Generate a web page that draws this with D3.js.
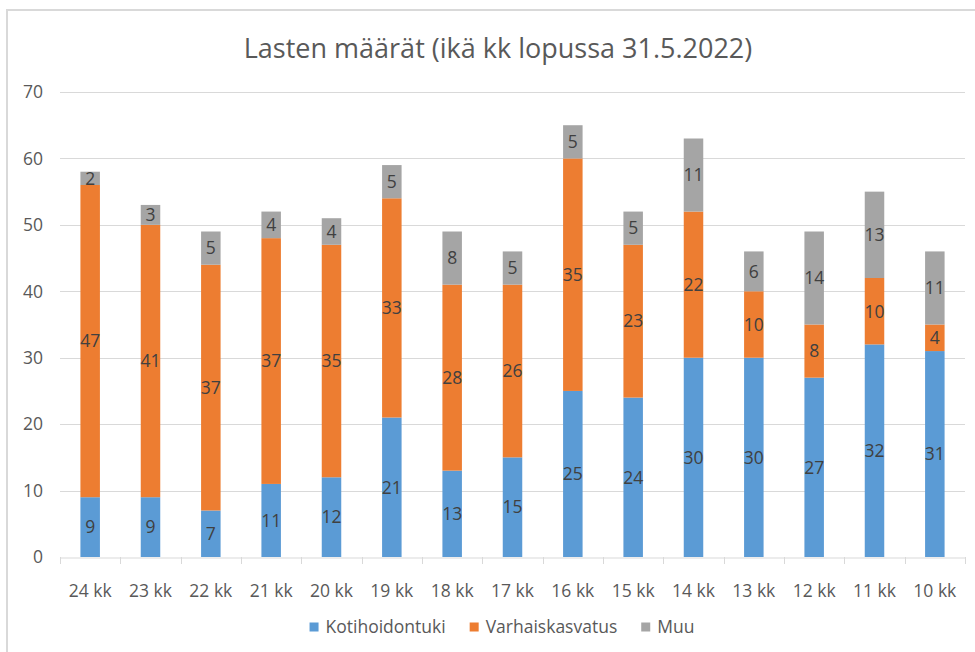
<!DOCTYPE html>
<html>
<head>
<meta charset="utf-8">
<script src="https://cdn.jsdelivr.net/npm/d3@7"></script>
<style>
  body { margin: 0; background: #fff; }
  svg { display: block; font-family: "Open Sans", "Noto Sans", sans-serif; }
</style>
</head>
<body>
<div id="chart"></div>
<script>
// Chart data
const categories = ["24 kk", "23 kk", "22 kk", "21 kk", "20 kk", "19 kk", "18 kk", "17 kk",
                    "16 kk", "15 kk", "14 kk", "13 kk", "12 kk", "11 kk", "10 kk"];
const kotihoidontuki = [9, 9, 7, 11, 12, 21, 13, 15, 25, 24, 30, 30, 27, 32, 31];
const varhaiskasvatus = [47, 41, 37, 37, 35, 33, 28, 26, 35, 23, 22, 10, 8, 10, 4];
const muu = [2, 3, 5, 4, 4, 5, 8, 5, 5, 5, 11, 6, 14, 13, 11];
const seriesNames = ["Kotihoidontuki", "Varhaiskasvatus", "Muu"];
const seriesColors = ["#5B9BD5", "#ED7D31", "#A5A5A5"];
const yTicks = [0, 10, 20, 30, 40, 50, 60, 70];
const title = "Lasten määrät (ikä kk lopussa 31.5.2022)";

const width = 975;
const height = 652;
const plotLeft = 60, plotRight = 965;
const fs = 17.5;

const svg = d3.select("#chart")
  .append("svg")
  .attr("width", width)
  .attr("height", height);

// chart frame (only top and left edges visible in the crop)
svg.append("line")
  .attr("x1", 6).attr("x2", width)
  .attr("y1", 10).attr("y2", 10)
  .attr("stroke", "#D9D9D9").attr("stroke-width", 2);
svg.append("line")
  .attr("x1", 7).attr("x2", 7)
  .attr("y1", 9).attr("y2", height)
  .attr("stroke", "#D9D9D9").attr("stroke-width", 2);

// title
svg.append("text")
  .attr("x", 498)
  .attr("y", 58)
  .attr("text-anchor", "middle")
  .attr("font-size", 27)
  .attr("fill", "#595959")
  .text(title);

const x = d3.scaleBand()
  .domain(categories)
  .range([plotLeft, plotRight]);

const y = d3.scaleLinear()
  .domain([0, 70])
  .range([557, 92]);

// gridlines
svg.append("g")
  .selectAll("line")
  .data(yTicks.filter(d => d > 0))
  .enter()
  .append("line")
  .attr("x1", plotLeft)
  .attr("x2", plotRight)
  .attr("y1", d => Math.round(y(d)) + 0.5)
  .attr("y2", d => Math.round(y(d)) + 0.5)
  .attr("stroke", "#D9D9D9");

// y labels
svg.append("g")
  .selectAll("text")
  .data(yTicks)
  .enter()
  .append("text")
  .attr("x", 43)
  .attr("y", d => y(d))
  .attr("dy", "0.36em")
  .attr("text-anchor", "end")
  .attr("font-size", fs)
  .attr("fill", "#595959")
  .text(d => d);

// stacked data
const rows = categories.map((c, i) => ({
  cat: c,
  Kotihoidontuki: kotihoidontuki[i],
  Varhaiskasvatus: varhaiskasvatus[i],
  Muu: muu[i]
}));
const stacked = d3.stack().keys(seriesNames)(rows);

const barW = 19.5;

const layers = svg.append("g")
  .selectAll("g")
  .data(stacked)
  .enter()
  .append("g")
  .attr("fill", (d, i) => seriesColors[i]);

layers.selectAll("rect")
  .data(d => d)
  .enter()
  .append("rect")
  .attr("x", d => x(d.data.cat) + x.bandwidth() / 2 - barW / 2)
  .attr("width", barW)
  .attr("y", d => y(d[1]))
  .attr("height", d => y(d[0]) - y(d[1]));

// data labels
layers.selectAll("text")
  .data(d => d)
  .enter()
  .append("text")
  .attr("x", d => x(d.data.cat) + x.bandwidth() / 2)
  .attr("y", d => (y(d[0]) + y(d[1])) / 2)
  .attr("dy", "0.36em")
  .attr("text-anchor", "middle")
  .attr("font-size", fs)
  .attr("fill", "#404040")
  .text(d => d[1] - d[0]);

// x axis
const gx = svg.append("g")
  .attr("transform", "translate(0,557.5)")
  .call(d3.axisBottom(x).tickSize(0).tickPadding(0));
gx.select(".domain").attr("stroke", "#D9D9D9");
gx.selectAll(".tick text")
  .attr("y", 27)
  .attr("font-size", fs)
  .attr("font-family", "'Open Sans', 'Noto Sans', sans-serif")
  .attr("fill", "#595959");

// category boundary ticks
svg.append("g")
  .selectAll("line")
  .data(d3.range(categories.length + 1))
  .enter()
  .append("line")
  .attr("x1", i => Math.round(plotLeft + i * x.bandwidth()) + 0.5)
  .attr("x2", i => Math.round(plotLeft + i * x.bandwidth()) + 0.5)
  .attr("y1", 557)
  .attr("y2", 564)
  .attr("stroke", "#D9D9D9");

// legend
const legend = svg.append("g");
let lx = 0;
seriesNames.forEach((name, i) => {
  const item = legend.append("g").attr("transform", `translate(${lx},0)`);
  item.append("rect")
    .attr("x", 0).attr("y", -4.5)
    .attr("width", 9).attr("height", 9)
    .attr("fill", seriesColors[i]);
  const t = item.append("text")
    .attr("x", 16)
    .attr("dy", "0.36em")
    .attr("font-size", fs)
    .attr("fill", "#595959")
    .text(name);
  lx += 16 + t.node().getComputedTextLength() + 24;
});
const legendW = lx - 24;
legend.attr("transform", `translate(${502 - legendW / 2},627)`);
</script>
</body>
</html>
